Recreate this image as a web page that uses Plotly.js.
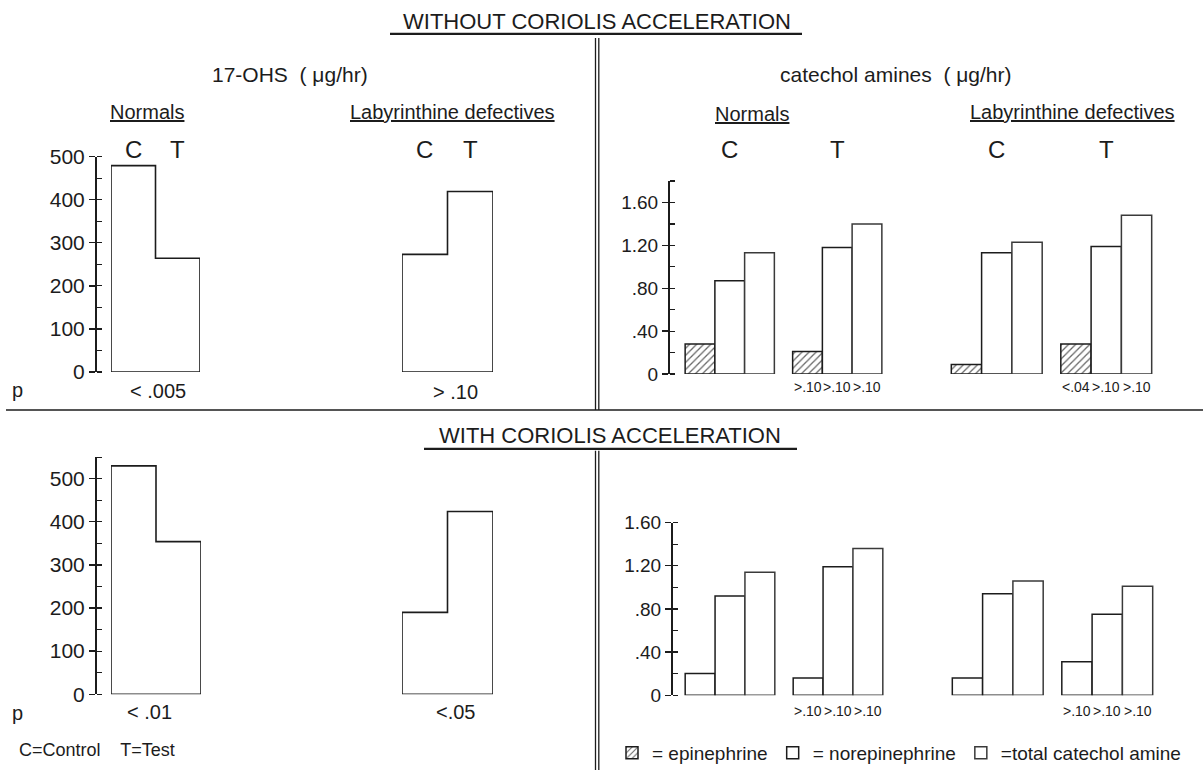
<!DOCTYPE html>
<html>
<head>
<meta charset="utf-8">
<script src="https://cdn.plot.ly/plotly-3.0.1.min.js"></script>
<style>html,body{margin:0;padding:0;background:#fff;}#chart{width:1203px;height:772px;}</style>
</head>
<body>
<div id="chart"></div>
<script>
// ---------------- DATA ----------------
const groups = ['C', 'T'];
// 17-OHS (µg/hr)
const ohsNoCorNormals = [479, 264];
const ohsNoCorLab = [273, 419];
const ohsCorNormals = [530, 354];
const ohsCorLab = [190, 424];
const ohsPNoCor = ['< .005', '> .10'];
const ohsPCor = ['< .01', '<.05'];
// catechol amines (µg/hr) - without coriolis
const noCorNormEpi = [0.28, 0.21];
const noCorNormNor = [0.87, 1.18];
const noCorNormTot = [1.13, 1.40];
const noCorLabEpi = [0.09, 0.28];
const noCorLabNor = [1.13, 1.19];
const noCorLabTot = [1.23, 1.48];
// with coriolis
const corNormEpi = [0.20, 0.16];
const corNormNor = [0.92, 1.19];
const corNormTot = [1.14, 1.36];
const corLabEpi = [0.16, 0.31];
const corLabNor = [0.94, 0.75];
const corLabTot = [1.06, 1.01];
// p values under the test bars (epi, nor, total)
const pNoCorNorm = ['>.10', '>.10', '>.10'];
const pNoCorLab = ['<.04', '>.10', '>.10'];
const pCorNorm = ['>.10', '>.10', '>.10'];
const pCorLab = ['>.10', '>.10', '>.10'];
const ohsTicks = [0, 100, 200, 300, 400, 500];
const catTicks = [0, 0.4, 0.8, 1.2, 1.6];
const catTickText = ['0', '.40', '.80', '1.20', '1.60'];
const legendNames = ['= epinephrine', '= norepinephrine', '=total catechol amine'];

// ---------------- LAYOUT HELPERS ----------------
const W = 1203, H = 772;
const X = p => p / W;
const Y = p => 1 - p / H;
const FONT = 'Liberation Sans, Arial, sans-serif';
const INK = '#1c1c1c';
const BARGAP = 0.17;

function stepOutline(vals, xa, ya) {
  const xs = [-0.5, -0.5, 0.5, 0.5, 1.5, 1.5, -0.5];
  const ys = [0, vals[0], vals[0], vals[1], vals[1], 0, 0];
  return {type: 'scatter', mode: 'lines', x: xs, y: ys, xaxis: xa, yaxis: ya,
    fill: 'toself', fillcolor: '#fff', line: {color: INK, width: 1.6},
    hoverinfo: 'skip', showlegend: false};
}
function catBars(epi, nor, tot, xa, ya, hatched, legend) {
  const base = {type: 'bar', x: groups, xaxis: xa, yaxis: ya};
  return [
    Object.assign({}, base, {y: epi, name: legendNames[0], showlegend: legend, legendrank: 1,
      marker: {color: '#fff', line: {color: INK, width: 1.5},
        pattern: hatched ? {shape: '/', fgcolor: '#666', bgcolor: '#fff', size: 5, solidity: 0.25} : {shape: ''}}}),
    Object.assign({}, base, {y: nor, name: legendNames[1], showlegend: legend, legendrank: 2,
      marker: {color: '#fff', line: {color: INK, width: 1.5}}}),
    Object.assign({}, base, {y: tot, name: legendNames[2], showlegend: legend, legendrank: 3,
      marker: {color: '#fff', line: {color: '#3a3a3a', width: 1.5}}})
  ];
}

const data = [
  stepOutline(ohsNoCorNormals, 'x', 'y'),
  stepOutline(ohsNoCorLab, 'x2', 'y'),
  stepOutline(ohsCorNormals, 'x3', 'y2'),
  stepOutline(ohsCorLab, 'x4', 'y2'),
  ...catBars(noCorNormEpi, noCorNormNor, noCorNormTot, 'x5', 'y3', true, true),
  ...catBars(noCorLabEpi, noCorLabNor, noCorLabTot, 'x6', 'y3', true, false),
  ...catBars(corNormEpi, corNormNor, corNormTot, 'x7', 'y4', false, false),
  ...catBars(corLabEpi, corLabNor, corLabTot, 'x8', 'y4', false, false)
];

function hiddenX(d0, d1, anchor, cat) {
  const a = {domain: [X(d0), X(d1)], anchor: anchor, range: [-0.5, 1.5], visible: false, fixedrange: true};
  if (cat) { a.type = 'category'; a.categoryarray = groups; }
  return a;
}
function yAx(top, bottom, range, pos, tickvals, ticktext, minorStep, size) {
  return {domain: [Y(bottom), Y(top)], range: range, anchor: 'free', position: X(pos),
    showline: true, linecolor: INK, linewidth: 1.5, showgrid: false, zeroline: false,
    ticks: 'outside', ticklen: 6, tickwidth: 1.3, tickcolor: INK,
    tickvals: tickvals, ticktext: ticktext,
    minor: {dtick: minorStep, ticks: 'inside', ticklen: 5, tickwidth: 1.2, tickcolor: INK, showgrid: false},
    tickfont: {family: FONT, size: size, color: INK}, fixedrange: true};
}

const ann = [];
function txt(text, x, y, size, opts) {
  ann.push(Object.assign({text: text, x: x, y: y, xref: 'paper', yref: 'paper', showarrow: false,
    xanchor: 'center', yanchor: 'middle', font: {family: FONT, size: size, color: INK}}, opts || {}));
}
function axTxt(text, xa, x, y, size) {
  ann.push({text: text, x: x, y: y, xref: xa, yref: 'paper', showarrow: false,
    xanchor: 'center', yanchor: 'middle', font: {family: FONT, size: size, color: INK}});
}
// section headers
txt('17-OHS  ( μg/hr)', X(290), Y(75), 21);
txt('catechol amines  ( μg/hr)', X(896), Y(75), 21);
txt('<u>Normals</u>', X(147), Y(112), 20);
txt('<u>Labyrinthine defectives</u>', X(452), Y(112), 20);
txt('<u>Normals</u>', X(752), Y(114), 20);
txt('<u>Labyrinthine defectives</u>', X(1072), Y(112), 20);
txt('WITH CORIOLIS ACCELERATION', X(610), Y(437), 22);
// C / T labels positioned over the category slots through the axes
['x', 'x2', 'x5', 'x6'].forEach(xa => groups.forEach((g, i) => axTxt(g, xa, i, Y(150), 24)));
// p labels
txt('p', X(17), Y(391), 20);
txt('p', X(17), Y(715), 20);
axTxt(ohsPNoCor[0], 'x', 0.55, Y(392), 20);
axTxt(ohsPNoCor[1], 'x2', 0.68, Y(393), 20);
axTxt(ohsPCor[0], 'x3', 0.35, Y(714), 20);
axTxt(ohsPCor[1], 'x4', 0.68, Y(714), 20);
const barW = (1 - BARGAP) / 3;
[[pNoCorNorm, 'x5', 388], [pNoCorLab, 'x6', 388], [pCorNorm, 'x7', 713], [pCorLab, 'x8', 713]].forEach(([labels, xa, yy]) => {
  labels.forEach((t, i) => axTxt(t, xa, 1 + (i - 1) * barW, Y(yy), 14));
});
txt('C=Control    T=Test', X(17), Y(752), 18, {xanchor: 'left'});

const line = (x0, y0, x1, y1, w) => ({type: 'line', xref: 'paper', yref: 'paper',
  x0: X(x0), y0: Y(y0), x1: X(x1), y1: Y(y1), line: {color: INK, width: w || 1.5}});
const shapes = [
  line(390, 34, 802, 34, 2.2),
  line(424, 450, 797, 450, 2.2),
  line(595.5, 38, 595.5, 411, 1.3), line(598.8, 38, 598.8, 411, 1.3),
  line(595.5, 452, 595.5, 772, 1.3), line(598.8, 452, 598.8, 772, 1.3),
  line(6, 411, 1203, 411, 1.5)
];

const layout = {
  width: W, height: H, margin: {l: 0, r: 0, t: 0, b: 0},
  paper_bgcolor: '#fff', plot_bgcolor: 'rgba(0,0,0,0)',
  title: {text: 'WITHOUT CORIOLIS ACCELERATION', x: X(597), y: Y(21), xanchor: 'center', yanchor: 'middle',
    font: {family: FONT, size: 22, color: INK}},
  barmode: 'group', bargap: BARGAP, bargroupgap: 0,
  xaxis: hiddenX(111, 200, 'y'),
  xaxis2: hiddenX(402, 493, 'y'),
  xaxis3: hiddenX(111, 201, 'y2'),
  xaxis4: hiddenX(402, 493, 'y2'),
  xaxis5: hiddenX(676, 891, 'y3', true),
  xaxis6: hiddenX(942, 1161, 'y3', true),
  xaxis7: hiddenX(676, 892, 'y4', true),
  xaxis8: hiddenX(943, 1162, 'y4', true),
  yaxis: yAx(157, 373, [0, 500], 95, ohsTicks, ohsTicks.map(String), 50, 21),
  yaxis2: yAx(458.4, 696, [0, 550], 95, ohsTicks, ohsTicks.map(String), 50, 21),
  yaxis3: yAx(181.5, 375, [0, 1.8], 668, catTicks, catTickText, 0.2, 19),
  yaxis4: yAx(524, 697, [0, 1.6], 671, catTicks, catTickText, 0.2, 19),
  showlegend: true,
  legend: {orientation: 'h', x: X(612), y: Y(755), xanchor: 'left', yanchor: 'middle',
    font: {family: FONT, size: 19, color: INK}, itemwidth: 30, tracegroupgap: 0,
    bgcolor: 'rgba(0,0,0,0)', traceorder: 'normal'},
  annotations: ann,
  shapes: shapes
};

Plotly.newPlot('chart', data, layout, {displayModeBar: false, staticPlot: true});
</script>
</body>
</html>
